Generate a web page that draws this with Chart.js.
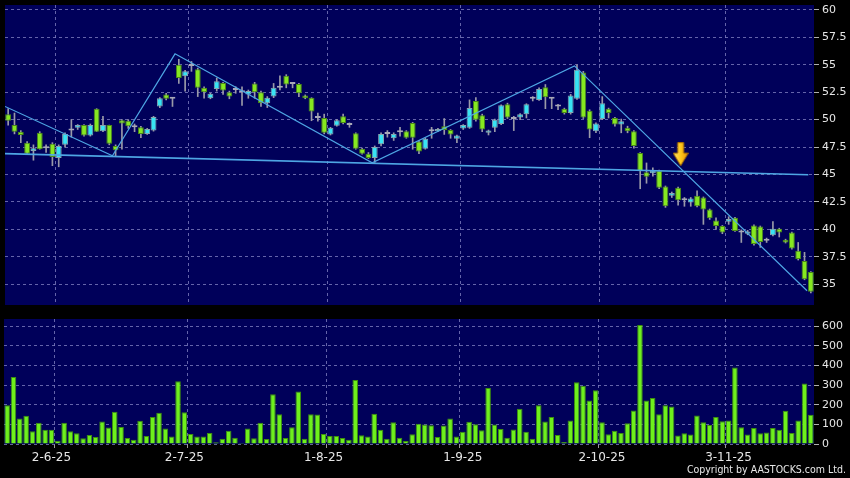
<!DOCTYPE html>
<html>
<head>
<meta charset="utf-8">
<script src="https://cdn.jsdelivr.net/npm/chart.js@4.4.1/dist/chart.umd.min.js"></script>
<style>
  html, body { margin: 0; padding: 0; background: #000; }
  body { width: 850px; height: 478px; position: relative; overflow: hidden; }
  #priceBox { position: absolute; left: 0; top: 0; width: 850px; height: 310px; }
  #volBox { position: absolute; left: 0; top: 310px; width: 850px; height: 168px; }
  #copyright { position: absolute; right: 4px; top: 463px; font: 10.5px "DejaVu Sans Condensed", "DejaVu Sans", sans-serif; color: #e8e8e8; white-space: nowrap; }
</style>
</head>
<body>
<div id="priceBox"><canvas id="priceChart"></canvas></div>
<div id="volBox"><canvas id="volumeChart"></canvas></div>
<div id="copyright">Copyright by AASTOCKS.com Ltd.</div>
<script>
// daily candles (one entry per trading day)
const openP = [
    50.5, 49.5, 48.9, 47.9, 47.15, 48.8, 47.4, 47.8, 46.5, 47.7,
    49.0, 49.25, 49.5, 48.55, 51.0, 48.95, 49.5, 47.6, 49.95, 49.9,
    49.3, 49.3, 48.7, 49.0, 51.2, 52.3, 51.9, 55.0, 53.95, 54.9,
    54.6, 52.9, 51.95, 52.8, 53.35, 52.5, 52.7, 52.5, 52.3, 53.3,
    52.5, 51.5, 52.1, 52.9, 54.0, 53.25, 53.25, 52.2, 52.0, 50.15,
    50.15, 48.65, 49.45, 50.3, 49.5, 48.75, 47.35, 46.9, 46.5, 47.75,
    48.7, 48.3, 48.85, 48.95, 49.7, 48.0, 47.35, 48.95, 48.95, 49.4,
    49.05, 48.25, 49.2, 49.25, 51.7, 50.4, 48.8, 49.25, 49.6, 51.4,
    50.05, 50.2, 50.5, 51.9, 51.8, 52.95, 51.9, 51.2, 51.0, 50.6,
    51.9, 54.3, 50.8, 48.95, 50.05, 51.0, 50.15, 49.55, 49.25, 48.95,
    46.95, 45.2, 45.1, 45.35, 43.9, 43.05, 43.8, 42.65, 42.45, 43.05,
    42.9, 41.8, 40.8, 40.3, 40.7, 41.05, 39.7, 39.6, 40.35, 40.25,
    38.95, 39.45, 40.05, 39.05, 39.7, 38.05, 37.1, 36.1
];
const highP = [
    51.0, 50.6, 49.0, 48.0, 47.7, 48.9, 47.7, 47.9, 47.7, 48.8,
    50.0, 49.55, 49.55, 49.6, 51.0, 50.3, 49.5, 47.7, 50.0, 50.0,
    49.6, 49.4, 49.2, 50.3, 52.0, 52.4, 51.95, 55.5, 54.5, 55.3,
    54.7, 53.0, 52.4, 53.8, 53.4, 52.6, 53.0, 53.0, 52.7, 53.4,
    52.6, 52.1, 53.3, 54.0, 54.1, 53.4, 53.3, 52.25, 52.0, 50.6,
    50.5, 49.3, 50.0, 50.5, 49.7, 48.8, 47.4, 47.0, 47.6, 48.8,
    49.0, 48.8, 49.3, 49.0, 49.75, 48.1, 48.3, 49.3, 49.2, 50.1,
    49.1, 48.6, 49.55, 51.8, 52.0, 50.5, 49.05, 50.05, 51.35, 51.5,
    50.3, 50.55, 51.45, 52.1, 52.9, 53.2, 52.0, 51.4, 51.05, 52.3,
    55.0, 54.4, 50.9, 49.7, 52.1, 51.05, 50.2, 50.05, 49.4, 49.0,
    47.0, 46.05, 45.6, 45.4, 43.95, 43.4, 43.85, 42.9, 42.9, 43.5,
    42.95, 41.85, 41.05, 40.35, 41.15, 41.1, 39.95, 39.9, 40.4, 40.3,
    39.2, 40.7, 40.1, 39.1, 39.75, 38.8, 37.9, 36.15
];
const lowP = [
    49.5, 48.7, 47.9, 46.8, 46.3, 47.3, 47.0, 45.8, 45.7, 47.5,
    48.4, 49.1, 48.5, 48.5, 48.9, 48.9, 47.7, 46.7, 47.3, 49.2,
    48.9, 48.35, 48.65, 48.95, 51.1, 51.8, 51.2, 53.3, 52.6, 54.4,
    52.1, 51.95, 51.9, 52.6, 52.3, 51.9, 52.4, 51.3, 51.95, 51.95,
    51.2, 51.1, 52.0, 52.7, 52.9, 52.9, 52.1, 51.9, 49.9, 49.85,
    48.7, 48.6, 49.4, 49.6, 49.3, 47.3, 46.85, 46.45, 46.1, 47.6,
    48.4, 48.1, 48.5, 48.3, 47.3, 46.9, 47.3, 48.3, 48.9, 48.65,
    48.3, 47.9, 49.1, 49.2, 49.85, 48.9, 48.6, 48.9, 49.55, 50.1,
    49.0, 50.0, 50.15, 51.7, 51.75, 51.0, 51.0, 50.9, 50.5, 50.5,
    51.85, 50.1, 48.35, 48.8, 50.0, 50.15, 49.4, 48.8, 48.8, 47.4,
    43.7, 44.2, 44.85, 43.7, 42.0, 42.9, 42.2, 42.1, 42.1, 42.05,
    40.45, 40.9, 40.0, 39.6, 40.45, 39.8, 38.8, 39.5, 38.55, 38.35,
    38.8, 39.4, 39.3, 38.75, 38.2, 37.2, 35.4, 34.2
];
const closeP = [
    49.9, 48.9, 48.6, 46.9, 47.4, 47.3, 47.4, 46.6, 47.6, 48.7,
    49.0, 49.5, 48.55, 49.5, 48.9, 49.5, 47.8, 47.2, 49.65, 49.4,
    49.3, 48.7, 49.15, 50.25, 51.95, 51.9, 51.9, 53.8, 54.4, 54.9,
    52.9, 52.5, 52.35, 53.5, 52.65, 52.1, 52.7, 52.5, 52.6, 52.5,
    51.5, 52.0, 52.9, 52.9, 53.2, 53.25, 52.4, 51.95, 50.75, 50.15,
    48.8, 49.25, 49.95, 49.7, 49.5, 47.35, 46.9, 46.5, 47.5, 48.7,
    48.7, 48.7, 48.85, 48.35, 48.35, 47.1, 48.25, 48.95, 49.15, 49.05,
    48.65, 48.55, 49.5, 51.05, 50.0, 49.1, 49.0, 50.0, 51.3, 50.2,
    50.05, 50.5, 51.4, 51.9, 52.8, 52.05, 51.9, 51.2, 50.6, 52.2,
    54.55, 50.2, 49.1, 49.65, 51.5, 50.6, 49.55, 49.85, 48.95, 47.6,
    45.3, 44.8, 45.35, 43.8, 42.1, 43.3, 42.65, 42.65, 42.8, 42.1,
    41.8, 41.0, 40.3, 39.7, 40.95, 39.85, 39.7, 39.8, 38.65, 38.85,
    38.95, 40.05, 39.7, 38.8, 38.25, 37.3, 35.45, 34.3
];
const volume = [
    197, 342, 130, 144, 65, 108, 72, 72, 17, 108,
    65, 55, 29, 46, 36, 115, 84, 164, 87, 31,
    22, 118, 41, 138, 159, 79, 38, 320, 162, 51,
    38, 38, 56, 9, 27, 67, 32, 5, 79, 29,
    108, 26, 253, 152, 31, 85, 268, 27, 152, 150,
    51, 41, 41, 31, 22, 326, 44, 38, 154, 72,
    27, 111, 32, 15, 50, 103, 100, 96, 36, 94,
    130, 38, 63, 113, 101, 70, 285, 99, 77, 32,
    74, 179, 63, 27, 197, 115, 138, 46, 10, 120,
    315, 297, 222, 274, 111, 50, 68, 56, 106, 171,
    607, 222, 234, 152, 197, 191, 43, 55, 48, 145,
    111, 97, 137, 116, 120, 390, 85, 48, 82, 55,
    58, 82, 72, 169, 56, 120, 308, 149
];

// date labels and where they sit (bar index), plus the month divider lines
const tickText = ['2-6-25', '2-7-25', '1-8-25', '1-9-25', '2-10-25', '3-11-25'];
const tickIdx = [7, 28, 50, 72, 94, 114];
const gridLines = [8, 29, 51, 72, 94, 114];

// hand drawn trend lines (bar index, price)
const trendAx = [-0.5, 16.5, 26.4, 57.6, 89.6, 126.4];
const trendAy = [51.2, 46.7, 56.0, 46.06, 54.9, 34.4];
const trendBx = [-0.5, 126.6];
const trendBy = [46.9, 44.97];
const arrowX = [106.4];
const arrowY = [46.85];

const N = openP.length;
const dateLabels = openP.map((_, i) => {
    const k = tickIdx.indexOf(i);
    return k >= 0 ? tickText[k] : '';
});

const UP = '#38e4f4';
const DOWN = '#86e820';
const FLAT = '#a8a8b8';
const WICK = '#9a9aa8';
const TREND = '#4ea6e4';
const GRID = 'rgba(125,125,190,0.8)';
const TXT = '#e6e6e6';
const FONT = 'DejaVu Sans';

const bodyRange = openP.map((o, i) => [o, closeP[i]]);
const wickRange = lowP.map((l, i) => [l, highP[i]]);
const bodyFill = openP.map((o, i) => closeP[i] > o ? UP : closeP[i] < o ? DOWN : FLAT);
const bodyEdge = openP.map((o, i) => closeP[i] > o ? '#86a6b0' : closeP[i] < o ? '#4a8a16' : FLAT);

const vGrid = ctx => gridLines.includes(ctx.index) ? GRID : 'rgba(0,0,0,0)';
const vTick = ctx => gridLines.includes(ctx.index) ? '#9a9a9a' : 'rgba(0,0,0,0)';

// navy plot background
const navyBg = {
    id: 'navyBg',
    beforeDraw(chart) {
        const { ctx, chartArea: a } = chart;
        ctx.save();
        ctx.fillStyle = '#00005a';
        ctx.fillRect(a.left, a.top, a.right - a.left, a.bottom - a.top);
        ctx.restore();
    }
};

function makeArrow() {
    const c = document.createElement('canvas');
    c.width = 16;
    c.height = 24;
    const g = c.getContext('2d');
    const grad = g.createLinearGradient(0, 0, 16, 0);
    grad.addColorStop(0, '#ffe870');
    grad.addColorStop(0.5, '#ffc81c');
    grad.addColorStop(1, '#e89000');
    g.fillStyle = grad;
    g.strokeStyle = '#a86c00';
    g.lineWidth = 1;
    g.beginPath();
    g.moveTo(5, 0.5);
    g.lineTo(11, 0.5);
    g.lineTo(11, 11);
    g.lineTo(15.5, 11);
    g.lineTo(8, 23.5);
    g.lineTo(0.5, 11);
    g.lineTo(5, 11);
    g.closePath();
    g.fill();
    g.stroke();
    return c;
}

const yTicks = { color: TXT, font: { family: FONT, size: 11 }, padding: 3, includeBounds: false };

// fixed width right axis, no extra room reserved for the end labels
const fitRight = s => {
    s.width = 36;
    s.paddingTop = 0;
    s.paddingBottom = 0;
};

new Chart(document.getElementById('priceChart'), {
    type: 'bar',
    data: {
        labels: dateLabels,
        datasets: [
            {
                type: 'line', xAxisID: 'xl', order: 0,
                data: trendAx.map((x, i) => ({ x, y: trendAy[i] })),
                borderColor: TREND, borderWidth: 1.2, pointRadius: 0
            },
            {
                type: 'line', xAxisID: 'xl', order: 0,
                data: trendBx.map((x, i) => ({ x, y: trendBy[i] })),
                borderColor: TREND, borderWidth: 1.6, pointRadius: 0
            },
            {
                type: 'line', xAxisID: 'xl', order: 0, showLine: false,
                data: arrowX.map((x, i) => ({ x, y: arrowY[i] })),
                pointStyle: makeArrow()
            },
            {
                data: bodyRange, order: 1, grouped: false,
                backgroundColor: bodyFill, borderColor: bodyEdge, borderWidth: 1, borderSkipped: false,
                barPercentage: 0.93, categoryPercentage: 1, minBarLength: 2
            },
            {
                data: wickRange, order: 2, grouped: false,
                backgroundColor: WICK, barThickness: 1, minBarLength: 1
            }
        ]
    },
    options: {
        responsive: true,
        maintainAspectRatio: false,
        animation: false,
        layout: { padding: { left: 4, top: 5, right: 0, bottom: 4 } },
        plugins: { legend: { display: false }, tooltip: { enabled: false } },
        scales: {
            x: {
                ticks: { display: false, autoSkip: false },
                grid: { color: vGrid, drawTicks: false, offset: true },
                border: { display: false, dash: [3, 3] },
                afterFit: s => { s.height = 0; }
            },
            xl: {
                type: 'linear', position: 'bottom', display: false,
                min: -0.5, max: N - 0.5, offset: false, bounds: 'data', grace: 0,
                grid: { offset: false }
            },
            y: {
                position: 'right', min: 33.1, max: 60.45,
                afterFit: fitRight,
                ticks: Object.assign({ stepSize: 2.5 }, yTicks),
                grid: { color: GRID, tickLength: 5, tickColor: '#b0b0b0', tickBorderDash: [] },
                border: { display: false, dash: [3, 3] }
            }
        }
    },
    plugins: [navyBg]
});

new Chart(document.getElementById('volumeChart'), {
    type: 'bar',
    data: {
        labels: dateLabels,
        datasets: [{
            data: volume,
            backgroundColor: '#6ef01c', borderColor: '#3e900e', borderWidth: 1,
            barPercentage: 0.88, categoryPercentage: 1
        }]
    },
    options: {
        responsive: true,
        maintainAspectRatio: false,
        animation: false,
        layout: { padding: { left: 4, top: 9, right: 0, bottom: 0 } },
        plugins: { legend: { display: false }, tooltip: { enabled: false } },
        scales: {
            x: {
                ticks: { autoSkip: false, maxRotation: 0, color: TXT, font: { family: FONT, size: 12 }, padding: 3 },
                grid: { color: vGrid, tickColor: vTick, tickLength: 4, tickBorderDash: [], offset: true },
                border: { display: false, dash: [3, 3] },
                afterFit: s => { s.height = 34; }
            },
            y: {
                position: 'right', min: 0, max: 637,
                afterFit: fitRight,
                ticks: Object.assign({ stepSize: 100 }, yTicks),
                grid: { color: GRID, tickLength: 5, tickColor: '#b0b0b0', tickBorderDash: [] },
                border: { display: false, dash: [3, 3] }
            }
        }
    },
    plugins: [navyBg]
});
</script>
</body>
</html>
